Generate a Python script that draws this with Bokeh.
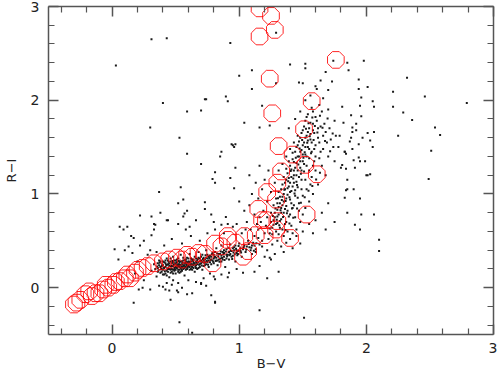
from bokeh.plotting import figure
from bokeh.models import LinearAxis, Range1d, FixedTicker, CustomLabelingPolicy
from bokeh.embed import file_html
from bokeh.resources import INLINE
import math

# ---- data (B-V, R-I) ----
x_ticks = [0, 1, 2, 3]
y_ticks = [0, 1, 2, 3]
x_minor = [-0.4, -0.2, 0.2, 0.4, 0.6, 0.8, 1.2, 1.4, 1.6, 1.8, 2.2, 2.4, 2.6, 2.8]
y_minor = [-0.4, -0.2, 0.2, 0.4, 0.6, 0.8, 1.2, 1.4, 1.6, 1.8, 2.2, 2.4, 2.6, 2.8]
x_title = "B\u2212V"
y_title = "R\u2212I"

# main-sequence band of field stars
band_pts = [
    (0.31,0.18),(0.33,0.25),(0.35,0.12),(0.36,0.21),(0.37,0.29),(0.38,0.16),(0.39,0.23),(0.40,0.19),
    (0.41,0.27),(0.41,0.14),(0.42,0.22),(0.43,0.31),(0.43,0.18),(0.44,0.25),(0.45,0.20),(0.45,0.11),
    (0.46,0.28),(0.47,0.23),(0.47,0.17),(0.48,0.33),(0.49,0.21),(0.49,0.26),(0.50,0.15),(0.51,0.24),
    (0.51,0.30),(0.52,0.19),(0.53,0.27),(0.53,0.22),(0.54,0.35),(0.55,0.18),(0.55,0.25),(0.56,0.29),
    (0.57,0.21),(0.57,0.13),(0.58,0.26),(0.59,0.32),(0.59,0.23),(0.60,0.28),(0.61,0.19),(0.61,0.36),
    (0.62,0.25),(0.63,0.30),(0.63,0.22),(0.64,0.27),(0.65,0.33),(0.65,0.17),(0.66,0.24),(0.67,0.29),
    (0.68,0.38),(0.68,0.21),(0.69,0.31),(0.70,0.26),(0.71,0.35),(0.71,0.19),(0.72,0.29),(0.73,0.24),
    (0.74,0.40),(0.74,0.32),(0.75,0.27),(0.76,0.22),(0.77,0.34),(0.77,0.15),(0.78,0.30),(0.79,0.37),
    (0.80,0.26),(0.81,0.33),(0.82,0.42),(0.82,0.29),(0.83,0.24),(0.84,0.36),(0.85,0.31),(0.86,0.45),
    (0.86,0.28),(0.87,0.38),(0.88,0.33),(0.89,0.22),(0.90,0.41),(0.91,0.35),(0.92,0.30),(0.93,0.46),
    (0.94,0.39),(0.95,0.34),(0.96,0.43),(0.97,0.28),(0.98,0.40),(0.99,0.36),(1.00,0.47),(1.01,0.42),
    (1.02,0.33),(1.04,0.45),(1.05,0.38),(1.07,0.50),(1.08,0.43),(1.10,0.36),(1.11,0.48),(1.13,0.41),
    (1.15,0.53),(1.16,0.46),
    (0.34,0.20),(0.36,0.26),(0.38,0.22),(0.39,0.17),(0.40,0.28),(0.42,0.15),(0.42,0.26),(0.44,0.20),
    (0.44,0.29),(0.46,0.16),(0.46,0.23),(0.48,0.19),(0.48,0.27),(0.50,0.22),(0.50,0.29),(0.52,0.17),
    (0.52,0.25),(0.54,0.21),(0.54,0.28),(0.56,0.24),(0.58,0.19),(0.58,0.30),(0.60,0.23),(0.62,0.20),
    (0.62,0.31),(0.64,0.24),(0.66,0.28),(0.67,0.20),(0.69,0.25),(0.70,0.33),(0.72,0.23),(0.73,0.30),
    (0.75,0.35),(0.76,0.29),(0.78,0.25),(0.80,0.31),(0.81,0.38),(0.83,0.29),(0.85,0.36),(0.87,0.30),
    (0.88,0.40),(0.90,0.35),(0.92,0.38),(0.94,0.33),(0.96,0.40),(0.97,0.45),(0.99,0.39),(1.03,0.41),
    (0.36,0.17),(0.37,0.24),(0.38,0.28),(0.39,0.20),(0.40,0.24),(0.40,0.14),(0.41,0.21),(0.42,0.29),
    (0.43,0.24),(0.43,0.13),(0.44,0.17),(0.45,0.26),(0.45,0.23),(0.46,0.19),(0.46,0.31),(0.47,0.26),
    (0.47,0.20),(0.48,0.23),(0.48,0.15),(0.49,0.29),(0.49,0.18),(0.50,0.25),(0.50,0.19),(0.51,0.21),
    (0.51,0.27),(0.52,0.23),(0.52,0.31),(0.53,0.19),(0.53,0.25),(0.54,0.24),(0.54,0.17),(0.55,0.28),
    (0.55,0.22),(0.56,0.20),(0.56,0.32),(0.57,0.26),(0.57,0.24),(0.58,0.22),(0.58,0.28),(0.59,0.20),
    (0.59,0.27),(0.60,0.25),(0.60,0.31),(0.61,0.22),(0.61,0.27),(0.62,0.28),(0.63,0.25),(0.63,0.19),
    (0.64,0.30),(0.64,0.21),(0.65,0.26),(0.66,0.31),(0.66,0.21),(0.67,0.25),(0.68,0.27),(0.68,0.32),
    (0.69,0.22),(0.70,0.29),(0.71,0.27),(0.72,0.32),(0.73,0.27),(0.74,0.25),(0.75,0.31),(0.76,0.33),
    (0.77,0.27),(0.78,0.33),(0.79,0.29),(0.80,0.35),(0.82,0.32),(0.84,0.30),(0.86,0.34),(0.88,0.37),
    (0.90,0.31),(0.93,0.36),(0.95,0.42),(0.98,0.37),(1.01,0.39),(1.06,0.44),(1.09,0.40),(1.12,0.45),
    (0.355,0.225),(0.365,0.185),(0.375,0.265),(0.385,0.195),(0.395,0.245),(0.405,0.215),(0.415,0.175),
    (0.425,0.245),(0.435,0.205),(0.445,0.275),(0.455,0.235),(0.465,0.205),(0.475,0.285),(0.485,0.245),
    (0.495,0.195),(0.505,0.265),(0.515,0.225),(0.525,0.285),(0.535,0.235),(0.545,0.195),(0.555,0.265),
    (0.565,0.225),(0.575,0.295),(0.585,0.245),(0.595,0.215),(0.605,0.275),(0.615,0.245),(0.625,0.225),
    (0.635,0.285),(0.645,0.255),(0.655,0.225),(0.665,0.265),(0.675,0.305),(0.685,0.245),(0.695,0.285),
    (0.705,0.235),(0.715,0.305),(0.725,0.265),(0.735,0.345),(0.745,0.285),(0.755,0.245),(0.765,0.315),
    (0.775,0.295),(0.785,0.355),(0.795,0.275),(0.805,0.325),(0.815,0.285),(0.825,0.365),(0.835,0.335),
    (0.845,0.275),(0.855,0.385),(0.865,0.315),(0.875,0.355),(0.885,0.295),(0.895,0.385),(0.905,0.335),
    (0.915,0.425),(0.925,0.345),(0.935,0.395),(0.945,0.305),(0.955,0.375),(0.965,0.355),(0.975,0.415),
    (0.985,0.345),(0.995,0.445),(1.015,0.375),(1.035,0.435),(1.055,0.405),(1.075,0.465),(1.095,0.425),
    (1.115,0.395),(1.135,0.475),
    (0.37,0.02),(0.45,-0.03),(0.52,0.05),(0.60,0.08),(0.66,0.06),(0.72,0.10),(0.55,0.00),(0.48,0.08),
    (0.80,0.12),(0.86,0.14),(0.92,0.16),(0.63,-0.06),(0.78,-0.08),(0.43,0.05),(0.70,0.04),(0.98,0.20),
    (0.35,0.38),(0.41,0.45),(0.47,0.52),(0.55,0.47),(0.62,0.55),(0.69,0.50),(0.75,0.58),(0.81,0.62),
    (0.30,0.40),(0.25,0.50),(0.28,0.35),(0.20,0.28),(0.22,0.45),(0.58,0.62),(0.88,0.58),(0.95,0.65),
    (1.05,0.62),(0.52,0.68),(0.66,0.72),(0.33,0.62),(0.44,0.72),(0.15,0.55),(0.10,0.40),(0.05,0.30),
    (0.18,0.15),(0.25,0.08),(0.30,-0.02),(0.12,0.65),(0.38,0.80),
    (0.40,0.01),(0.47,0.03),(0.51,-0.03),(0.70,0.05),(0.74,0.02),(0.81,0.09),(0.91,0.11),(1.03,0.16),
    (1.12,0.17),(1.16,0.23),(1.24,0.32),(0.81,-0.15),(0.46,-0.13),(0.59,-0.07),(0.52,-0.05),
    (0.17,-0.16),(0.42,-0.02),(0.24,0.00),(0.21,-0.02),(0.02,0.41),(0.13,0.44),(0.16,0.37),(0.17,0.53),
    (0.31,0.56),(0.34,0.67),(1.31,0.17),(1.25,0.30),(1.22,0.10),(0.53,0.16),
]

# red (giant / dwarf) branch of field stars
branch_pts = [
    (1.12,0.55),(1.15,0.62),(1.18,0.50),(1.17,0.70),(1.20,0.58),(1.21,0.66),(1.22,0.75),(1.23,0.52),
    (1.24,0.63),(1.25,0.80),(1.25,0.70),(1.26,0.57),(1.27,0.88),(1.27,0.67),(1.28,0.75),(1.29,0.60),
    (1.29,0.95),(1.30,0.83),(1.30,0.69),(1.31,0.78),(1.31,1.02),(1.32,0.90),(1.32,0.64),(1.33,0.85),
    (1.33,0.73),(1.34,0.97),(1.34,1.10),(1.35,0.80),(1.35,0.92),(1.36,1.05),(1.36,0.68),(1.37,1.15),
    (1.37,0.87),(1.38,0.99),(1.38,1.22),(1.39,0.76),(1.39,1.08),(1.40,1.30),(1.40,0.94),(1.41,1.18),
    (1.41,1.03),(1.42,0.85),(1.42,1.37),(1.43,1.25),(1.43,1.12),(1.44,0.98),(1.44,1.45),(1.45,1.33),
    (1.45,1.20),(1.46,1.07),(1.46,1.52),(1.47,1.40),(1.47,0.90),(1.48,1.28),(1.48,1.60),(1.49,1.15),
    (1.49,1.47),(1.50,1.35),(1.50,1.68),(1.51,1.24),(1.51,1.55),(1.52,1.42),(1.52,1.78),(1.53,1.62),
    (1.53,1.30),(1.54,1.50),(1.54,1.85),(1.55,1.70),(1.55,1.38),(1.56,1.58),(1.57,1.92),(1.57,1.45),
    (1.58,1.75),(1.59,1.65),(1.60,1.52),(1.60,1.82),(1.62,1.60),(1.63,1.95),(1.64,1.72),(1.66,1.48),
    (1.68,1.66),(1.70,1.40),(1.72,1.58),(1.75,1.35),(1.78,1.50),(1.80,1.28),(1.83,1.45),(1.85,1.15),
    (1.65,1.30),(1.68,1.20),(1.62,1.10),(1.58,1.00),(1.55,0.92),(1.52,0.85),(1.50,0.78),(1.48,0.70),
    (1.45,0.62),(1.42,0.58),(1.60,1.25),(1.63,1.38),(1.57,1.18),(1.53,1.05),(1.50,0.98),(1.47,0.82),
    (1.44,0.75),(1.41,0.66),(1.38,0.60),(1.35,0.55),(1.56,1.10),(1.59,1.35),(1.46,1.62),(1.43,1.55),
    (1.40,1.48),(1.37,1.40),(1.34,1.32),(1.31,1.25),(1.28,1.12),(1.25,1.02),(1.22,0.92),(1.19,0.82),
    (1.16,0.75),(1.14,0.68),(1.39,1.70),(1.44,1.80),(1.48,1.88),(1.52,2.00),(1.56,2.05),(1.61,2.12),
    (1.66,2.02),(1.70,1.90),(1.75,1.78),(1.79,1.62),(1.73,2.20),(1.68,2.30),
    (1.24,0.58),(1.26,0.64),(1.27,0.72),(1.28,0.80),(1.29,0.68),(1.30,0.76),(1.30,0.90),(1.31,0.86),
    (1.32,0.71),(1.32,0.97),(1.33,0.80),(1.33,1.05),(1.34,0.88),(1.35,1.00),(1.35,1.18),(1.36,0.84),
    (1.36,1.12),(1.37,0.95),(1.37,1.27),(1.38,1.06),(1.38,0.82),(1.39,1.17),(1.39,1.35),(1.40,1.02),
    (1.40,1.12),(1.41,1.26),(1.41,0.90),(1.42,1.44),(1.42,1.08),(1.43,1.20),(1.43,1.34),(1.44,1.04),
    (1.44,1.28),(1.45,1.50),(1.45,1.13),(1.46,1.40),(1.46,1.25),(1.47,1.56),(1.47,1.18),(1.48,1.35),
    (1.48,1.45),(1.49,1.65),(1.49,1.25),(1.50,1.52),(1.50,1.42),(1.51,1.72),(1.51,1.32),(1.52,1.60),
    (1.52,1.50),(1.53,1.40),(1.53,1.82),(1.54,1.66),(1.54,1.57),(1.55,1.48),(1.56,1.76),(1.56,1.64),
    (1.57,1.55),(1.58,1.88),(1.58,1.68),(1.59,1.48),(1.61,1.78),(1.62,1.70),(1.63,1.55),(1.65,1.88),
    (1.67,1.75),(1.69,1.55),(1.71,1.70),(1.74,1.50),(1.76,1.62),(1.66,1.62),(1.60,1.40),(1.64,1.45),
    (1.58,1.30),(1.55,1.25),(1.52,1.15),(1.49,1.05),(1.46,0.96),(1.43,0.88),(1.40,0.78),(1.37,0.70),
    (1.34,0.62),(1.31,0.57),
    (1.265,0.765),(1.285,0.845),(1.295,0.725),(1.305,0.955),(1.315,0.665),(1.325,0.825),(1.335,0.935),
    (1.345,0.755),(1.355,1.045),(1.365,0.925),(1.375,0.795),(1.385,1.135),(1.395,0.965),(1.405,1.245),
    (1.415,0.845),(1.425,1.165),(1.435,1.005),(1.445,1.385),(1.455,1.095),(1.465,1.315),(1.475,1.485),
    (1.485,1.215),(1.495,1.575),(1.505,1.385),(1.515,1.445),(1.525,1.695),(1.535,1.545),(1.545,1.755),
    (1.555,1.615),(1.565,1.435),(1.575,1.815),(1.585,1.575),(1.595,1.725),(1.615,1.655),(1.635,1.835),
    (1.655,1.705),(1.675,1.565),(1.695,1.805),(1.715,1.455),(1.735,1.645),(1.455,0.845),(1.485,0.905),
    (1.515,0.965),(1.545,1.035),(1.575,1.085),(1.605,1.155),(1.635,1.225),(1.425,0.745),(1.395,0.685),
    (1.365,0.615),
    (1.02,0.58),(1.06,0.70),(1.09,0.62),(1.12,0.78),(1.08,0.88),(1.15,0.95),(1.04,0.82),(1.18,1.05),
    (1.10,1.00),(1.20,1.15),(1.13,1.12),(1.00,0.92),(1.23,1.25),(1.16,1.30),(1.08,1.20),
    (1.10,0.45),(1.13,0.38),(1.18,0.44),(1.22,0.40),(1.26,0.46),(1.30,0.50),(1.33,0.44),(1.37,0.48),
    (1.40,0.52),(1.45,0.55),(1.50,0.60),(1.55,0.68),(1.60,0.72),(1.65,0.80),(1.70,0.90),(1.20,0.33),
    (1.28,0.36),(1.35,0.38),(1.42,0.42),(1.48,0.47),(1.58,0.58),(1.68,0.62),(1.75,0.70),(1.85,0.80),
    (1.95,0.95),(1.90,1.05),(2.00,1.20),(1.95,1.35),(2.05,1.50),(1.88,1.60),(1.92,1.75),
]

# sparse field stars
field_pts = [
    (0.31,2.65),(0.43,2.66),(0.03,2.37),(0.40,1.97),(0.30,1.71),(1.29,2.72),(1.40,2.38),(1.52,2.39),
    (1.52,2.34),(1.10,2.32),(1.00,2.26),(1.10,2.12),(1.85,2.40),(1.86,2.32),(1.94,2.22),(1.94,2.12),
    (1.74,2.42),(1.47,2.19),(1.50,2.18),(1.64,2.21),(1.29,2.18),(1.60,2.15),(1.70,2.11),(0.93,2.61),
    (1.98,2.42),(2.32,2.24),(2.01,2.14),(2.21,2.09),(2.46,2.04),(1.96,2.03),(2.79,1.97),(2.05,1.99),
    (1.81,1.93),(1.95,1.94),(2.06,1.93),(2.21,1.93),(2.29,1.87),(2.36,1.79),(1.88,1.84),(1.96,1.83),
    (1.82,1.76),(2.54,1.71),(1.89,1.71),(1.92,1.68),(1.89,1.66),(2.01,1.65),(2.06,1.66),(2.58,1.63),
    (2.25,1.62),(1.97,1.60),(2.03,1.57),(1.87,1.56),(1.94,1.53),(1.89,1.48),(1.83,1.45),(1.84,1.43),
    (2.51,1.46),(1.94,1.39),(1.99,1.35),(1.90,1.36),(1.81,1.31),(1.84,1.27),(1.91,1.28),(2.01,1.20),
    (2.03,1.21),(2.49,1.16),(1.85,1.05),(1.84,1.04),(1.83,0.96),(1.96,0.78),(2.06,0.78),(1.91,0.67),
    (1.95,0.62),(2.10,0.51),(2.10,0.39),
    (0.895,2.04),(0.91,1.99),(0.73,2.01),(0.59,1.88),(0.70,1.89),(0.53,1.60),(0.94,1.53),(0.95,1.52),
    (0.96,1.50),(0.97,1.53),(0.86,1.45),(0.59,1.43),(0.85,1.40),(0.70,1.32),(0.97,1.28),(0.81,1.23),
    (0.79,1.16),(0.93,1.17),(0.81,1.12),(0.54,1.07),(0.96,1.06),(0.37,1.02),(0.56,0.94),(0.52,0.90),
    (0.73,0.91),(0.73,0.84),(0.59,0.82),(0.57,0.79),(0.56,0.76),(0.78,0.78),(0.895,0.755),(0.22,0.77),
    (0.31,0.76),(0.43,0.72),(0.33,0.68),(0.80,0.70),(0.86,0.67),(0.91,0.68),(0.98,0.68),(0.06,0.65),
    (0.09,0.62),(0.61,0.65),(0.74,2.01),(1.18,1.94),(1.04,1.76),(1.16,1.71),(1.24,1.73),
    (0.53,-0.37),(0.63,-0.48),(0.81,-0.16),(1.16,-0.24),(1.51,-0.32),
]

# cluster members (red octagons)
member_pts = [
    (-0.30,-0.18),(-0.28,-0.16),(-0.25,-0.13),(-0.21,-0.07),(-0.18,-0.04),(-0.16,-0.09),(-0.13,-0.06),
    (-0.10,-0.06),(-0.07,-0.02),(-0.05,0.03),(-0.03,0.00),(0.01,0.03),(0.03,0.06),(0.06,0.07),
    (0.10,0.10),(0.12,0.14),(0.14,0.10),(0.18,0.16),(0.20,0.19),(0.24,0.21),(0.28,0.23),(0.33,0.26),
    (0.40,0.28),(0.45,0.30),(0.51,0.32),(0.55,0.30),(0.59,0.35),(0.63,0.33),(0.68,0.37),(0.73,0.36),
    (0.79,0.26),(0.81,0.47),(0.86,0.44),(0.91,0.51),(0.91,0.55),(0.97,0.48),(1.03,0.33),(1.04,0.55),
    (1.07,0.39),(1.13,0.56),(1.18,0.72),(1.21,0.72),(1.29,0.62),(1.40,0.53),(1.20,0.56),(1.30,0.71),
    (1.15,0.84),(1.29,0.94),(1.22,1.02),(1.30,1.12),(1.53,0.78),(1.33,1.24),(1.61,1.21),(1.52,1.31),
    (1.42,1.42),(1.31,1.51),(1.51,1.69),(1.26,1.86),(1.57,1.99),(1.24,2.23),(1.76,2.43),(1.16,2.68),
    (1.28,2.75),(1.25,2.90),(1.16,2.98),
]

dx = [q[0] for q in band_pts + branch_pts + field_pts]
dy = [q[1] for q in band_pts + branch_pts + field_pts]
mx = [q[0] for q in member_pts]
my = [q[1] for q in member_pts]

FONT = "DejaVu Sans"
AX = "#555555"
TXT = "#222222"

p = figure(width=497, height=373, x_range=Range1d(-0.5, 3.0), y_range=Range1d(-0.5, 3.0),
           output_backend="svg", toolbar_location=None,
           x_axis_label=x_title, y_axis_label=y_title)
p.min_border_left = 44
p.min_border_right = 4
p.min_border_top = 6
p.min_border_bottom = 38
p.grid.visible = False
p.outline_line_color = None
p.background_fill_color = "white"

p.scatter(dx, dy, marker="square", size=2, fill_color="#1a1a1a", line_color=None)
p.ngon(mx, my, radius=9, radius_units="screen", n=8, angle=math.pi / 8,
       fill_color=None, line_color="#ff0000", line_width=1, line_alpha=0.85)

xt = FixedTicker(ticks=x_ticks, minor_ticks=x_minor)
yt = FixedTicker(ticks=y_ticks, minor_ticks=y_minor)

def style(ax, ticker, labels=True):
    ax.ticker = ticker
    ax.axis_line_color = AX
    ax.axis_line_width = 1.5
    ax.major_tick_line_color = AX
    ax.minor_tick_line_color = AX
    ax.major_tick_line_width = 1.5
    ax.minor_tick_line_width = 1.2
    ax.major_tick_in = 10
    ax.major_tick_out = 0
    ax.minor_tick_in = 6
    ax.minor_tick_out = 0
    ax.major_label_text_font = FONT
    ax.major_label_text_color = TXT
    ax.axis_label_text_font = FONT
    ax.axis_label_text_color = TXT
    ax.axis_label_text_font_style = "normal"
    if labels:
        ax.major_label_text_font_size = "14px"
        ax.axis_label_text_font_size = "13px"
    else:
        ax.major_label_policy = CustomLabelingPolicy(code="return []")
        ax.major_label_text_font_size = "0px"
        ax.major_label_standoff = 0

style(p.xaxis[0], xt)
style(p.yaxis[0], yt)
p.xaxis[0].major_label_standoff = 8
p.xaxis[0].axis_label_standoff = 0
p.yaxis[0].major_label_standoff = 9
p.yaxis[0].axis_label_standoff = 9
p.yaxis[0].major_label_orientation = "horizontal"

top = LinearAxis()
style(top, xt, labels=False)
p.add_layout(top, "above")
right = LinearAxis()
style(right, yt, labels=False)
p.add_layout(right, "right")

open("out.html", "w").write(file_html(p, INLINE))
